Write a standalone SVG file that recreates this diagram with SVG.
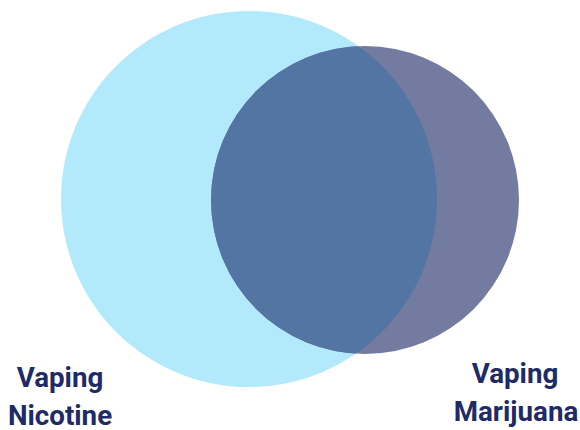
<svg xmlns="http://www.w3.org/2000/svg" width="580" height="430" viewBox="0 0 580 430">
  <style>
    .lbl { font-family: "Roboto", "Liberation Sans", sans-serif; font-weight: 700; font-size: 28px; fill: #1E2B66; text-anchor: middle; }
  </style>
  <defs>
    <clipPath id="bigClip"><circle cx="249" cy="199" r="188"/></clipPath>
  </defs>
  <rect width="580" height="430" fill="#FFFFFF"/>
  <g id="nicotine">
    <circle cx="249" cy="199" r="188" fill="#B3EAFB"/>
  </g>
  <g id="marijuana">
    <circle cx="365" cy="200" r="154" fill="#737BA0"/>
  </g>
  <g id="overlap">
    <circle cx="365" cy="200" r="154" fill="#5375A3" clip-path="url(#bigClip)"/>
  </g>
  <g id="label-nicotine">
    <text class="lbl" transform="translate(60 387) scale(0.99 1)">Vaping</text>
    <text class="lbl" transform="translate(60 425) scale(0.99 1)">Nicotine</text>
  </g>
  <g id="label-marijuana">
    <text class="lbl" transform="translate(515 383) scale(0.99 1)">Vaping</text>
    <text class="lbl" transform="translate(516 421) scale(0.99 1)">Marijuana</text>
  </g>
</svg>
